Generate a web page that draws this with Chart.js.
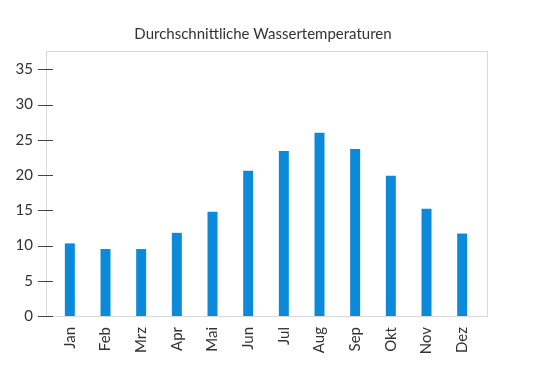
<!DOCTYPE html>
<html>
<head>
<meta charset="utf-8">
<script src="https://cdn.jsdelivr.net/npm/chart.js@4"></script>
<style>
html,body{margin:0;padding:0;background:#fff;}
#wrap{width:541px;height:383px;}
</style>
</head>
<body>
<div id="wrap"><canvas id="c" width="541" height="383"></canvas></div>
<script>
const categories = ["Jan","Feb","Mrz","Apr","Mai","Jun","Jul","Aug","Sep","Okt","Nov","Dez"];
const temperatures = [10.3, 9.5, 9.5, 11.8, 14.8, 20.6, 23.4, 26.0, 23.7, 19.9, 15.2, 11.7];
const yTicks = [0, 5, 10, 15, 20, 25, 30, 35];
const titleText = "Durchschnittliche Wassertemperaturen";

const FONT = "Lato, 'DejaVu Sans', sans-serif";
const TEXT = "#333333";

const framePlugin = {
  id: 'frame',
  beforeDatasetsDraw(chart) {
    const ctx = chart.ctx, a = chart.chartArea, y = chart.scales.y;
    const l = a.left - 6, r = a.right + 7;
    ctx.save();
    ctx.strokeStyle = '#d9d9d9';
    ctx.lineWidth = 1;
    ctx.strokeRect(l + 0.5, a.top + 0.5, r - l, a.bottom - a.top);
    ctx.strokeStyle = '#444444';
    yTicks.forEach(v => {
      const py = Math.round(y.getPixelForValue(v)) + 0.5;
      ctx.beginPath();
      ctx.moveTo(l - 8, py);
      ctx.lineTo(l + 7, py);
      ctx.stroke();
    });
    ctx.restore();
  },
  afterDraw(chart) {
    const ctx = chart.ctx, a = chart.chartArea;
    ctx.save();
    ctx.fillStyle = TEXT;
    ctx.font = "15px " + FONT;
    ctx.textAlign = 'center';
    ctx.textBaseline = 'alphabetic';
    ctx.fillText(titleText, (a.left + a.right) / 2 - 3, 39);
    ctx.restore();
  }
};

new Chart(document.getElementById('c'), {
  type: 'bar',
  data: {
    labels: categories,
    datasets: [{
      data: temperatures,
      backgroundColor: '#0a8ad8',
      borderWidth: 0,
      barPercentage: 0.28,
      categoryPercentage: 1.0
    }]
  },
  options: {
    responsive: false,
    animation: false,
    layout: { padding: { top: 51, right: 61, left: 0, bottom: 0 } },
    plugins: { legend: { display: false }, tooltip: { enabled: false }, title: { display: false } },
    scales: {
      x: {
        grid: { display: false, drawTicks: false },
        border: { display: false },
        ticks: {
          color: TEXT,
          font: { family: FONT, size: 15 },
          minRotation: 90,
          maxRotation: 90,
          padding: 11,
          autoSkip: false
        },
        afterFit(s) { s.height = 67; }
      },
      y: {
        min: 0,
        max: 37.6,
        grid: { display: false, drawTicks: false },
        border: { display: false },
        ticks: {
          stepSize: 5,
          includeBounds: false,
          color: TEXT,
          font: { family: FONT, size: 15 },
          padding: 19
        },
        afterFit(s) { s.width = 52; }
      }
    }
  },
  plugins: [framePlugin]
});
</script>
</body>
</html>
